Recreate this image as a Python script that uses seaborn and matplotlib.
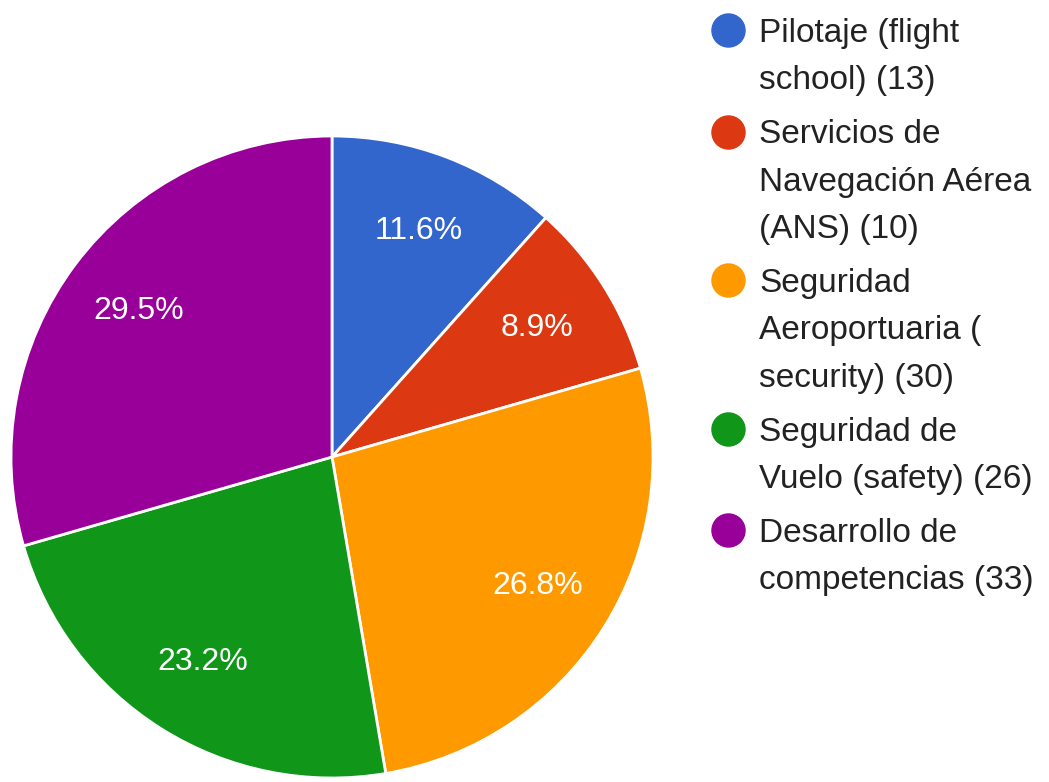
import matplotlib
matplotlib.use("Agg")
import matplotlib.pyplot as plt
from matplotlib.lines import Line2D
import seaborn as sns

# data
categories = [
    "Pilotaje (flight\nschool)",
    "Servicios de\nNavegación Aérea\n(ANS)",
    "Seguridad\nAeroportuaria (\nsecurity)",
    "Seguridad de\nVuelo (safety)",
    "Desarrollo de\ncompetencias",
]
counts = [13, 10, 30, 26, 33]
colors = ["#3366cc", "#dc3912", "#ff9900", "#109618", "#990099"]

sns.set_theme(style="white")
plt.rcParams["font.family"] = ["Liberation Sans", "DejaVu Sans"]

W, H = 1049, 782
fig = plt.figure(figsize=(W / 100, H / 100), dpi=100)
fig.patch.set_facecolor("white")

# pie centre (332, 457) px, radius 321 px
cx, cy, r = 332, 457, 321
ax = fig.add_axes([(cx - r) / W, (H - cy - r) / H, 2 * r / W, 2 * r / H])

wedges, texts, autotexts = ax.pie(
    counts,
    colors=colors,
    startangle=90,
    counterclock=False,
    autopct="%1.1f%%",
    pctdistance=0.755,
    wedgeprops=dict(edgecolor="white", linewidth=2),
    textprops=dict(color="white", fontsize=23),
)
ax.set_xlim(-1, 1)
ax.set_ylim(-1, 1)
ax.set_aspect("equal")
ax.axis("off")
for w in wedges:
    w.set_clip_on(False)

fs = 24
handles = [
    Line2D([], [], marker="o", linestyle="", markersize=23.8,
           markerfacecolor=c, markeredgecolor=c)
    for c in colors
]
labels = [f"{name} ({n})" for name, n in zip(categories, counts)]
leg = fig.legend(
    handles, labels,
    loc="upper left",
    bbox_to_anchor=(711 / W, 1 - 18 / H),
    frameon=False,
    fontsize=fs,
    handlelength=1.0,
    handleheight=0.85,
    handletextpad=0.45,
    labelspacing=0.69,
    borderpad=0,
    borderaxespad=0,
)
for t in leg.get_texts():
    t.set_color("#222222")
    t.set_linespacing(1.68)
# put the marker next to the first line of each wrapped label
for col in leg._legend_handle_box.get_children():
    for row in col.get_children():
        row.align = "top"

fig.savefig("out.png", dpi=100, facecolor="white")
